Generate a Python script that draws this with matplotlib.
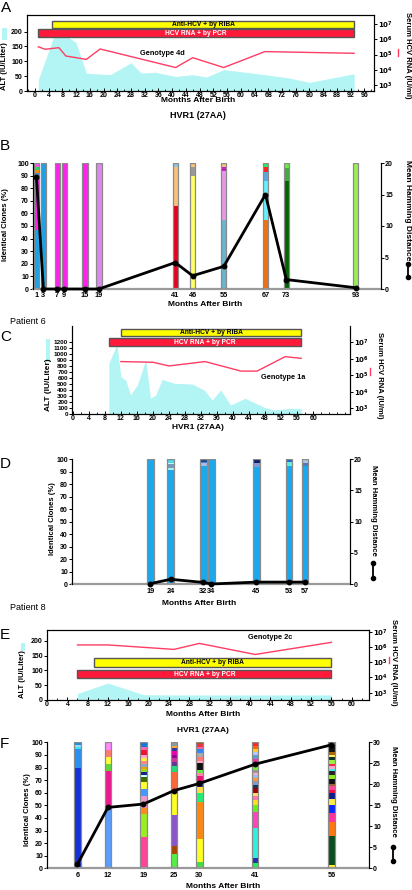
import numpy as np
import matplotlib
matplotlib.use("Agg")
import matplotlib.pyplot as plt
from matplotlib.patches import Rectangle
from matplotlib.lines import Line2D
from matplotlib.ticker import NullLocator, MultipleLocator

plt.rcParams['font.family'] = ['Liberation Sans', 'DejaVu Sans']
plt.rcParams['font.weight'] = 'bold'
plt.rcParams['mathtext.default'] = 'bf'

W, H = 412, 890

# ---------------- data ----------------
# patient of panels A/B
a_alt_month = [1, 6, 8, 12, 15, 22, 28, 31, 35, 41, 46, 50, 55, 67, 74, 80, 93]
a_alt = [38, 200, 195, 163, 60, 55, 95, 60, 63, 49, 55, 47, 72, 55, 44, 29, 58]
a_rna_month = [1, 3, 7, 9, 15, 19, 41, 46, 55, 67, 93]
a_rna = [3.2e5, 2.2e5, 2.8e5, 8e4, 4.8e4, 2.3e5, 1.4e4, 6.2e4, 1.4e4, 1.55e5, 1.2e5]
a_riba = (5, 93)
a_pcr = (1, 93)

b_months = [1, 3, 7, 9, 15, 19, 41, 46, 55, 67, 73, 93]
b_clones = [[47, 43, 2, 2.5, 2.5, 3], [100], [100], [100], [100], [100],
            [66, 31, 3], [90, 7, 3], [55, 39, 3, 3], [55, 31, 7, 4, 3],
            [86, 10, 4], [100]]
b_colors = [['#1aa3e8', '#ff22ee', '#5588bb', '#ff8800', '#22dd55', '#ff55ee'],
            ['#1aa3e8'], ['#ff22ee'], ['#ff22ee'], ['#ff22ee'], ['#dd88ee'],
            ['#e8001c', '#f7c27a', '#88c8e8'], ['#ffff66', '#999999', '#f7c27a'],
            ['#6ab4d0', '#e699e6', '#c020c0', '#f7c27a'],
            ['#f07010', '#66eeff', '#5aa8e0', '#ff2020', '#22ee66'],
            ['#006600', '#44aa44', '#66ee44'], ['#99ee55']]
b_hamming = [17.7, 0, 0, 0, 0, 0, 4.2, 2.1, 3.6, 15.0, 1.5, 0.2]

# patient 6 (C/D)
c_alt_month = [9, 11, 12, 13.2, 14.4, 16.1, 18.2, 19.4, 20.7, 22.3, 25.3, 29.8,
               32.8, 34.8, 36.9, 39.4, 43, 47.8, 50.3, 54.4, 57]
c_alt = [850, 1170, 627, 572, 322, 488, 905, 267, 322, 583, 517, 505,
         405, 238, 405, 155, 267, 117, 72, 100, 100]
c_rna_month = [12, 20, 24, 33, 42, 46, 53, 57]
c_rna = [6.8e5, 6.2e5, 3.7e5, 6.8e5, 1.8e5, 1.8e5, 1.35e6, 1.07e6]
c_riba = (12, 57)
c_pcr = (9, 57)

d_months = [19, 24, 32, 34, 45, 53, 57]
d_clones = [[100], [91, 2, 3, 1, 3], [94.5, 2, 1.5, 2], [100], [94, 3, 3],
            [94.5, 3, 2.5], [94.5, 2, 3.5]]
d_colors = [['#1aa8ee'], ['#1aa8ee', '#aaf0f0', '#7799bb', '#ccffff', '#44ddee'],
            ['#1aa8ee', '#aabbdd', '#3388ee', '#224488'], ['#1aa8ee'],
            ['#1aa8ee', '#8899cc', '#0a1f6b'], ['#1aa8ee', '#66eedd', '#2266dd'],
            ['#1aa8ee', '#5577bb', '#b0c4de']]
d_hamming = [0.1, 0.8, 0.3, 0.05, 0.35, 0.35, 0.35]

# patient 8 (E/F)
e_alt_month = [6, 12, 19, 25, 30, 41, 56]
e_alt = [22, 57, 18, 17, 17, 17, 17]
e_rna_month = [6, 12, 25, 30, 41, 56]
e_rna = [1.35e6, 1.35e6, 6.9e5, 1.7e6, 3.2e5, 2.0e6]
e_riba = (9.3, 56)
e_pcr = (6, 56)

f_months = [6, 12, 19, 25, 30, 41, 56]
f_clones = [
    [80, 14.5, 2, 1, 2.5],
    [48, 29, 6, 5.5, 5.5, 6],
    [25, 18, 4.6, 4.4, 5, 5.7, 6.1, 3.4, 1.6, 2.7, 2.1, 2.1, 2.1, 2.1, 2.4, 2.6, 4.1, 2, 4],
    [11.4, 6.3, 24.3, 18.8, 15.4, 5, 3, 3, 3, 3, 2, 2, 2.8],
    [5.3, 18, 29.6, 6.6, 4.8, 2, 2, 5, 2, 3, 5, 2, 3, 3, 3, 2, 2, 1.7],
    [4, 4, 24, 13, 5, 4, 3, 3, 3.5, 2.5, 3, 3, 2, 2, 2, 3, 3, 3, 3, 2, 3, 2, 3],
    [2.6, 23.3, 11.1, 7.2, 6.1, 4.5, 5.2, 2, 3, 2, 4, 3, 3, 2, 2, 2, 3, 2, 2, 2, 6, 2],
]
f_colors = [
    ['#1432d8', '#2a8ff0', '#3ee6f0', '#9fd8ff', '#1e90e0'],
    ['#5b9cff', '#f2168e', '#5fd83a', '#ffff3a', '#ff7b72', '#ff88ff'],
    ['#ff4499', '#99ee22', '#ff8820', '#ff88bb', '#ee99cc', '#4499ff', '#ffff33',
     '#3a6b00', '#ccffff', '#112288', '#99dd22', '#ff9900', '#88aacc', '#ff8877',
     '#ffee44', '#ffaacc', '#ee1133', '#ff66aa', '#1177dd'],
    ['#55ee44', '#aa4400', '#8855cc', '#ffff22', '#ff6633', '#22dd77', '#663399',
     '#cc3399', '#990099', '#ee00aa', '#333399', '#ffaa33', '#8899aa'],
    ['#44dd44', '#ffff22', '#ff8811', '#22ee77', '#ffdd44', '#223366', '#2255aa',
     '#ee1177', '#ff88aa', '#66ee44', '#111111', '#ffaacc', '#ff7777', '#aaaaaa',
     '#3388ff', '#ee6699', '#ee3344', '#aa5500'],
    ['#22ee55', '#2233aa', '#33eedd', '#ff44bb', '#66ee22', '#ffdd22', '#ff77aa',
     '#ffe066', '#990000', '#113366', '#8899bb', '#ff9933', '#99bbee', '#ffaacc',
     '#999999', '#77ee33', '#117733', '#ff3399', '#6699cc', '#aaccff', '#ffcc33',
     '#ff6600', '#ff2233'],
    ['#ffee33', '#0b4d1e', '#ff7711', '#ff3399', '#0a2aff', '#ffee44', '#0a1f8a',
     '#ee1144', '#ff4499', '#996633', '#111111', '#88ee22', '#222222', '#44eeee',
     '#ffaacc', '#ff2244', '#99ee44', '#113322', '#ffee66', '#aa6600', '#111111',
     '#666666'],
]
f_hamming = [1.0, 14.5, 15.3, 18.5, 20.2, 24.8, 29.4]

CYAN = '#b3f4f4'
PINK = '#ff3d63'
RED = '#ff1a3c'
YEL = '#ffff00'

fig = plt.figure(figsize=(W / 100, H / 100), dpi=100)


def px(x, y):
    return x / W, 1 - y / H


def add_axes(l, t, r, b):
    return fig.add_axes([l / W, 1 - b / H, (r - l) / W, (b - t) / H])


def label(x, y, s, size=5.5, rot=0, **kw):
    fig.text(*px(x, y), s, ha='center', va='center', rotation=rot,
             fontsize=size, fontweight='bold', **kw)


def style_ticks(ax, size=5):
    ax.tick_params(labelsize=size, length=2, width=0.7, direction='out', pad=1)


def clinical(box, xlim, xmax_tick, ylim, yticks, rlog, alt_m, alt_v, rna_m, rna_v,
             riba, pcr, riba_y, pcr_y, geno, geno_xy, top=True, ysize=5):
    ax = add_axes(*box)
    ax.fill_between(alt_m, 0, alt_v, color=CYAN, lw=0, zorder=1)
    for (x0, x1), (y0, y1), fc, txt, tc in [(riba, riba_y, YEL, 'Anti-HCV + by RIBA', 'black'),
                                            (pcr, pcr_y, RED, 'HCV RNA + by PCR', 'white')]:
        ax.add_patch(Rectangle((x0, y0), x1 - x0, y1 - y0, fc=fc, ec='#555555',
                               lw=1.0, zorder=3))
        ax.text((x0 + x1) / 2, (y0 + y1) / 2, txt, ha='center', va='center',
                fontsize=4.8, color=tc, fontweight='bold', zorder=4)
    ax.set_xlim(*xlim)
    ax.set_ylim(*ylim)
    ax.set_xticks(np.arange(0, xmax_tick + 1, 4))
    ax.xaxis.set_minor_locator(MultipleLocator(2))
    ax.set_yticks(yticks)
    style_ticks(ax, ysize)
    ax.tick_params(axis='x', which='both', direction='in', pad=0.6, labelsize=5)
    ax.tick_params(which='minor', length=1.3, width=0.6)
    ax.text(*geno_xy, geno, fontsize=5.3, ha='center', va='center', zorder=4)
    ax2 = ax.twinx()
    ax2.set_yscale('log')
    ax2.plot(rna_m, rna_v, color=PINK, lw=1.0)
    ax2.set_ylim(10 ** rlog[0], 10 ** rlog[1])
    ax2.set_yticks([1e3, 1e4, 1e5, 1e6, 1e7])
    ax2.set_yticklabels([r'$10^{%d}$' % k for k in range(3, 8)])
    ax2.yaxis.set_minor_locator(NullLocator())
    style_ticks(ax2)
    for a in (ax, ax2):
        for s in a.spines.values():
            s.set_linewidth(0.8)
        if not top:
            a.spines['top'].set_visible(False)
    return ax


def clones(box, months, segs, cols, ham, width, xlim, hmax, htick, xlabels):
    ax = add_axes(*box)
    for m, hs, cs in zip(months, segs, cols):
        bottom = 0
        for h, c in zip(hs, cs):
            ax.bar(m, h, width=width, bottom=bottom, color=c, lw=0, zorder=2)
            bottom += h
        ax.bar(m, 100, width=width, fill=False, ec='#8a8a8a', lw=0.9, zorder=3)
    ax.set_xlim(*xlim)
    ax.set_ylim(0, 100)
    ax.set_yticks(np.arange(0, 101, 10))
    ax.set_xticks(months)
    ax.set_xticklabels(xlabels)
    style_ticks(ax)
    ax.tick_params(axis='x', length=0, pad=2.5, labelsize=5.3)
    ax.spines['top'].set_visible(False)
    ax.spines['bottom'].set_color('#9a9a9a')
    ax.spines['bottom'].set_linewidth(1.6)
    ax2 = ax.twinx()
    ax2.plot(months, ham, color='black', lw=2.0, marker='o', ms=3.2, zorder=5,
             clip_on=False)
    ax2.set_ylim(0, hmax)
    ax2.set_yticks(np.arange(0, hmax + 1, htick))
    style_ticks(ax2)
    ax2.spines['top'].set_visible(False)
    ax2.spines['bottom'].set_visible(False)
    for a in (ax, ax2):
        for k in ('left', 'right'):
            a.spines[k].set_linewidth(0.8)
    return ax


def cyan_key(x0, y0, x1, y1):
    fig.add_artist(Rectangle(px(x0, y1), (x1 - x0) / W, (y1 - y0) / H,
                             transform=fig.transFigure, color=CYAN, lw=0))


def pink_key(x, y0, y1):
    fig.add_artist(Line2D([x / W, x / W], [1 - y0 / H, 1 - y1 / H],
                          transform=fig.transFigure, color=PINK, lw=1.0))


def ham_key(x, y0, y1):
    fig.add_artist(Line2D([x / W, x / W], [1 - y0 / H, 1 - y1 / H],
                          transform=fig.transFigure, color='black', lw=1.3,
                          marker='o', ms=3))


# ---------------- panel A ----------------
clinical((27, 15, 374, 91), (-2.3, 98.8), 96, (0, 256), [0, 50, 100, 150, 200],
         (2.607, 7.59), a_alt_month, a_alt, a_rna_month, a_rna, a_riba, a_pcr,
         (213, 237), (181, 208), 'Genotype 4d', (37, 127))
fig.text(*px(1, 1), 'A', fontsize=11, fontweight='normal', va='top', ha='left')
label(5, 66, 'ALT (IU/Liter)', rot=90)
cyan_key(2, 28, 7, 40)
label(407, 55, 'Serum HCV RNA (IU/ml)', rot=-90)
pink_key(398, 49, 56)
label(198, 101, 'Months After Birth', size=6)
label(198, 115.7, 'HVR1 (27AA)', size=6.5)

# ---------------- panel B ----------------
clones((33, 163, 381, 289), b_months, b_clones, b_colors, b_hamming, 1.5,
       (0, 100.3), 20, 5, [str(m) for m in b_months])
fig.text(*px(0, 139), 'B', fontsize=11, fontweight='normal', va='top', ha='left')
label(6, 225, 'Identical Clones (%)', rot=90)
label(408, 210, 'Mean Hamming Distance', size=6, rot=-90)
ham_key(408, 264, 277)
label(205, 305, 'Months After Birth', size=6)

# ---------------- panel C ----------------
fig.text(*px(10, 322), 'Patient 6', fontsize=6.5, fontweight='normal', va='center', ha='left')
clinical((72, 326, 350, 414.3), (-0.2, 69.2), 60, (0, 1472), np.arange(0, 1201, 100),
         (2.636, 7.99), c_alt_month, c_alt, c_rna_month, c_rna, c_riba, c_pcr,
         (1305, 1417), (1143, 1267), 'Genotype 1a', (52.5, 612), top=False, ysize=4.6)
fig.text(*px(0, 330), 'C', fontsize=11, fontweight='normal', va='top', ha='left')
label(49, 385, 'ALT (IU/Liter)', size=6, rot=90)
cyan_key(46, 339, 50, 362)
label(380, 375, 'Serum HCV RNA (IU/ml)', rot=-90)
pink_key(370, 368, 375)
label(198, 427.7, 'HVR1 (27AA)', size=6)

# ---------------- panel D ----------------
clones((72, 459, 350, 584.3), d_months, d_clones, d_colors, d_hamming, 1.6,
       (-0.2, 68), 20, 5, [str(m) for m in d_months])
fig.text(*px(0, 457), 'D', fontsize=11, fontweight='normal', va='top', ha='left')
label(52, 519, 'Identical Clones (%)', rot=90)
label(373, 510, 'Mean Hamming Distance', size=5.5, rot=-90)
ham_key(373, 563, 578)
label(199, 603.7, 'Months After Birth', size=6)
fig.text(*px(10, 608), 'Patient 8', fontsize=6.5, fontweight='normal', va='center', ha='left')

# ---------------- panel E ----------------
clinical((47, 630, 369, 700), (0, 63.4), 60, (0, 236), [0, 50, 100, 150, 200],
         (2.52, 7.11), e_alt_month, e_alt, e_rna_month, e_rna, e_riba, e_pcr,
         (112, 140.5), (73, 101), 'Genotype 2c', (43.9, 210))
fig.text(*px(0, 628), 'E', fontsize=11, fontweight='normal', va='top', ha='left')
label(23, 674.5, 'ALT (IU/Liter)', rot=90)
cyan_key(21, 643, 25, 651)
label(394, 662, 'Serum HCV RNA (IU/ml)', rot=-90)
pink_key(389, 657, 663)
label(202.7, 714.3, 'Months After Birth', size=6)
label(202.7, 730, 'HVR1 (27AA)', size=6)

# ---------------- panel F ----------------
clones((47, 742.3, 369, 868.3), f_months, f_clones, f_colors, f_hamming, 1.25,
       (0, 63.4), 30, 5, [str(m) for m in f_months])
fig.text(*px(0, 737), 'F', fontsize=11, fontweight='normal', va='top', ha='left')
label(28, 810, 'Identical Clones (%)', rot=90)
label(393, 791, 'Mean Hamming Distance', size=5.5, rot=-90)
ham_key(393, 847, 861)
label(223, 886.7, 'Months After Birth', size=6)

fig.savefig('out.png', dpi=100)
